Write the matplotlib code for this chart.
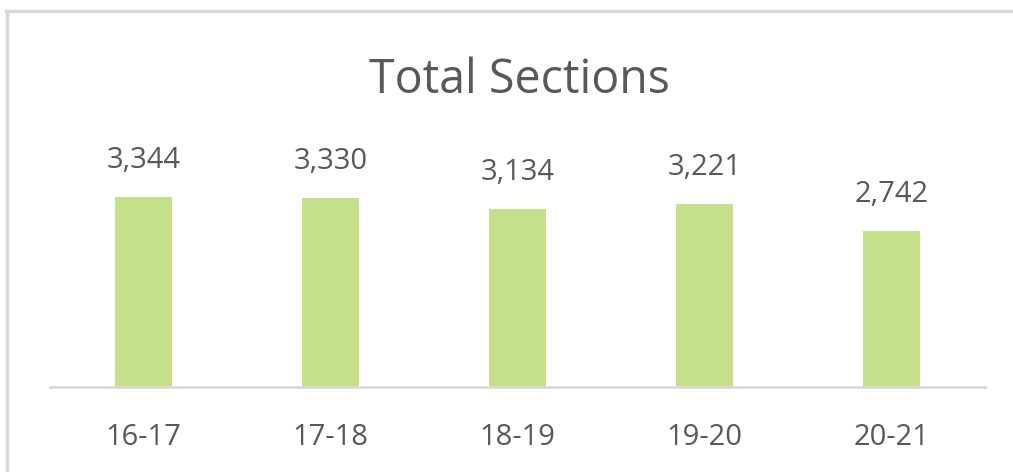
import matplotlib
matplotlib.use("Agg")
import matplotlib.pyplot as plt
from matplotlib.lines import Line2D

years = ["16-17", "17-18", "18-19", "19-20", "20-21"]
sections = [3344, 3330, 3134, 3221, 2742]

text_color = "#595959"
bar_color = "#C5E08A"
line_color = "#D9D9D9"

plt.rcParams["font.family"] = ["Open Sans", "DejaVu Sans"]

fig = plt.figure(figsize=(10.13, 4.72), dpi=100)
ax = fig.add_axes([50 / 1013, 85 / 472, 935 / 1013, 227 / 472])

x = range(len(years))
ax.bar(x, sections, width=0.31, color=bar_color, zorder=2)
for i, v in zip(x, sections):
    ax.annotate(f"{v:,}", (i, v), xytext=(0, 29), textcoords="offset pixels",
                ha="center", va="baseline", fontsize=21, color=text_color)

ax.set_xlim(-0.5, len(years) - 0.5)
ax.set_ylim(0, 4000)
ax.set_xticks(list(x))
ax.set_xticklabels(years, fontsize=21, color=text_color)
for lbl in ax.get_xticklabels():
    lbl.set_va("baseline")
ax.tick_params(axis="x", length=0, pad=42)
ax.set_yticks([])
for s in ["top", "right", "left"]:
    ax.spines[s].set_visible(False)
ax.spines["bottom"].set_color(line_color)
ax.spines["bottom"].set_linewidth(2)

fig.text(519 / 1013, 1 - 93 / 472, "Total Sections", ha="center", va="baseline",
         fontsize=33.5, color=text_color)

# frame of the chart area (only top and left visible)
fig.add_artist(Line2D([6.5 / 1013, 6.5 / 1013], [0, 1 - 10.5 / 472], color=line_color,
                      linewidth=2.5, transform=fig.transFigure))
fig.add_artist(Line2D([5.5 / 1013, 1], [1 - 10.5 / 472, 1 - 10.5 / 472], color=line_color,
                      linewidth=2.5, transform=fig.transFigure))

fig.savefig("out.png", dpi=100)
